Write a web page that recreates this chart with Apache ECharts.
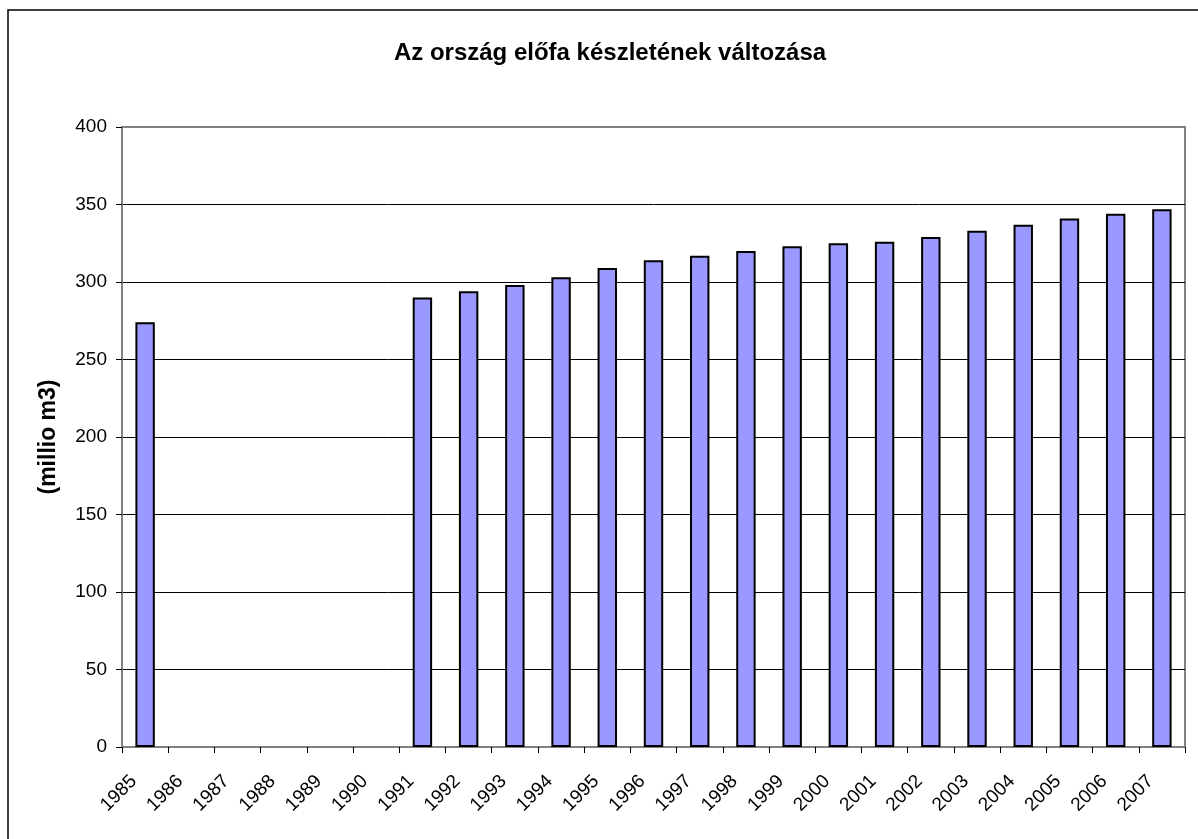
<!DOCTYPE html>
<html>
<head>
<meta charset="utf-8">
<script src="https://cdn.jsdelivr.net/npm/echarts@6/dist/echarts.min.js"></script>
<style>
html,body{margin:0;padding:0;background:#fff;}
#chart{width:1198px;height:839px;}
</style>
</head>
<body>
<div id="chart"></div>
<script>
const titleText = 'Az ország előfa készletének változása';
const yAxisName = '(millio m3)';
const years = ['1985','1986','1987','1988','1989','1990','1991','1992','1993','1994','1995','1996','1997','1998','1999','2000','2001','2002','2003','2004','2005','2006','2007'];
const stock = [274, null, null, null, null, null, 290, 294, 298, 303, 309, 314, 317, 320, 323, 325, 326, 329, 333, 337, 341, 344, 347];
const yMin = 0, yMax = 400, yStep = 50;

const chart = echarts.init(document.getElementById('chart'), null, {renderer:'canvas'});
const font = 'Arial, "Liberation Sans", sans-serif';
chart.setOption({
  animation: false,
  backgroundColor: '#fff',
  graphic: [
    {type:'rect', shape:{x:8, y:10, width:1210, height:850}, style:{fill:'none', stroke:'#000', lineWidth:1.5}, silent:true, z:100},
    {type:'text', x: 610, y: 53, style:{text: titleText, font: 'bold 24px ' + font, fill:'#000', align:'center', verticalAlign:'middle'}},
    {type:'text', x: 49, y: 437, rotation: Math.PI/2, style:{text: yAxisName, font: 'bold 23px ' + font, fill:'#000', align:'center', verticalAlign:'middle'}}
  ],
  grid: {left:122, right:13, top:127, bottom:92, show:true, borderColor:'#808080', borderWidth:2, backgroundColor:'#fff', z:0},
  xAxis: {
    type:'category', data: years, boundaryGap: true,
    axisLine:{show:true, lineStyle:{color:'#808080', width:2}},
    axisTick:{show:true, alignWithLabel:false, length:6, lineStyle:{color:'#000', width:1}},
    axisLabel:{rotate:45, margin:20, fontSize:19, fontFamily:font, color:'#000', interval:0, padding:[0,16,0,0]},
    splitLine:{show:false}
  },
  yAxis: {
    type:'value', min:yMin, max:yMax, interval:yStep,
    axisLine:{show:true, lineStyle:{color:'#808080', width:2}},
    axisTick:{show:true, length:6, lineStyle:{color:'#000', width:1}},
    axisLabel:{fontSize:19, fontFamily:font, color:'#000', margin:15},
    splitLine:{show:true, lineStyle:{color:['#000','#000','#000','#000','#000','#000','#000','#000','#808080'], width:1}}
  },
  series: [{
    type:'bar', data: stock, barWidth:'42%',
    itemStyle:{color:'#9999FF', borderColor:'#000', borderWidth:2},
    z:5
  }]
});
</script>
</body>
</html>
